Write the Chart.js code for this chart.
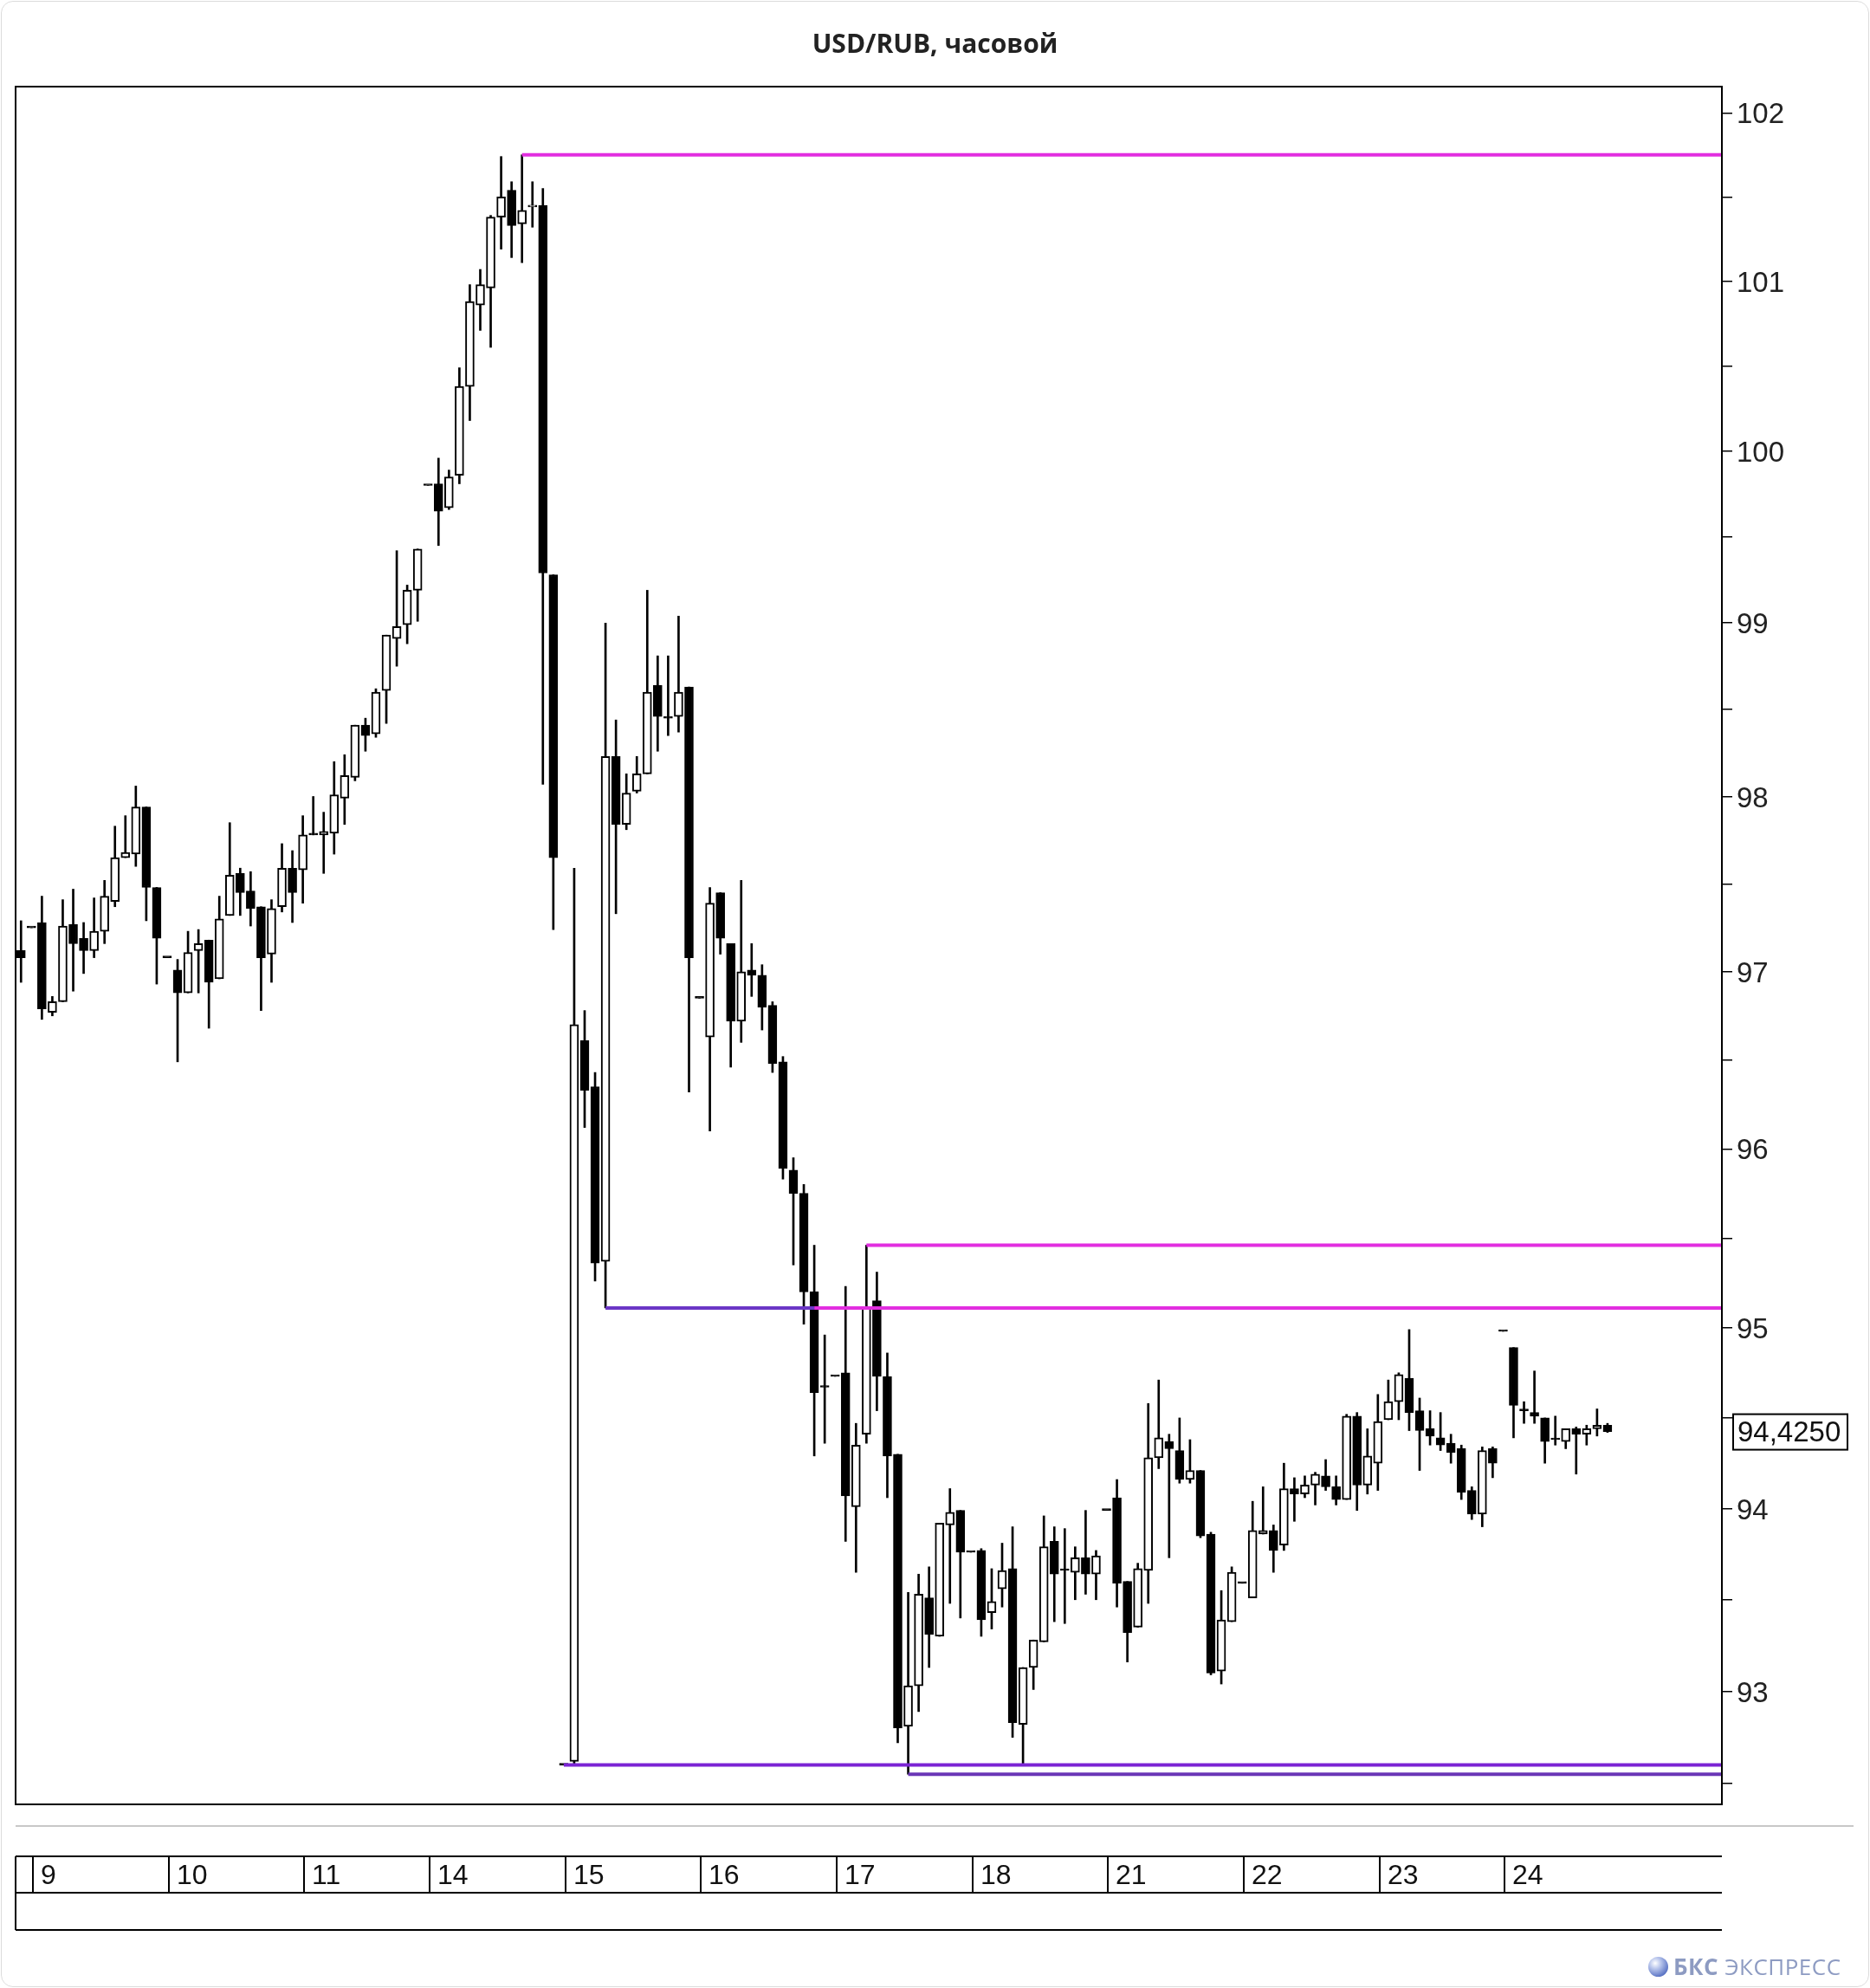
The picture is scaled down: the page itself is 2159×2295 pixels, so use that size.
<!DOCTYPE html>
<html>
<head>
<meta charset="utf-8">
<title>USD/RUB, часовой</title>
<script src="https://cdn.jsdelivr.net/npm/chart.js@4.4.0/dist/chart.umd.min.js"></script>
<style>
  html, body { margin: 0; padding: 0; background: #fff; }
  #wrap { position: relative; width: 2159px; height: 2295px; }
  #frame { position: absolute; left: 1px; top: 1px; width: 2155px; height: 2291px; border: 1px solid #dcdcdc; border-radius: 14px; pointer-events: none; }
  #logo { position: absolute; left: 1903px; top: 2254px; height: 32px; display: flex; align-items: center;
          font-family: 'Open Sans', sans-serif; font-size: 26px; color: #8d9bc2; letter-spacing: 0.5px; }
  #logo .ball { width: 23px; height: 23px; border-radius: 50%; margin-right: 6px;
                background: radial-gradient(circle at 35% 32%, #ffffff 0%, #b9c6ec 30%, #5a73c4 75%, #3c54a6 100%); }
  #logo b { font-weight: 700; margin-right: 7px; }
</style>
</head>
<body>
<div id="wrap">
  <canvas id="chart"></canvas>
  <div id="frame"></div>
  <div id="logo"><div class="ball"></div><b>БКС</b><span>ЭКСПРЕСС</span></div>
</div>
<script>
// hourly candles, 9th .. 24th (one row per day)
const opens = [
  97.12,
  97.25, 97.28, 96.77, 96.83, 97.27, 97.19, 97.12, 97.23, 97.40, 97.65, 97.67, 97.94, 97.48,
  97.08, 97.01, 96.88, 97.12, 97.18, 96.96, 97.32, 97.56, 97.46, 97.37, 97.10, 97.37, 97.59,
  97.58, 97.78, 97.78, 97.79, 97.99, 98.11, 98.41, 98.36, 98.61, 98.91, 98.99, 99.19,
  99.80, 99.81, 99.67, 99.86, 100.38, 100.86, 100.96, 101.38, 101.54, 101.34, 101.44, 101.45, 99.28,
  92.60, 92.62, 96.61, 96.35, 95.37, 98.23, 97.84, 98.03, 98.13, 98.64, 98.45, 98.46, 98.63,
  96.85, 96.63, 97.45, 97.16, 96.72, 97.01, 96.98, 96.81, 96.49, 95.88, 95.75, 95.20, 94.67,
  94.73, 94.75, 94.01, 94.41, 95.15, 94.73, 94.30, 92.81, 93.03, 93.51, 93.30, 93.91, 93.99,
  93.76, 93.77, 93.43, 93.56, 93.67, 92.82, 93.13, 93.27, 93.82, 93.66, 93.65, 93.73, 93.64,
  93.99, 94.06, 93.60, 93.35, 93.66, 94.28, 94.37, 94.32, 94.16, 94.21, 93.86, 93.11, 93.38,
  93.59, 93.51, 93.86, 93.88, 93.80, 94.11, 94.08, 94.13, 94.18, 94.12, 94.05, 94.51, 94.13,
  94.25, 94.49, 94.59, 94.72, 94.54, 94.44, 94.39, 94.36, 94.33, 94.10, 93.97, 94.33,
  94.98, 94.89, 94.54, 94.53, 94.50, 94.38, 94.37, 94.44, 94.41, 94.44, 94.46
];
const highs = [
  97.29,
  97.25, 97.43, 96.86, 97.41, 97.47, 97.28, 97.42, 97.52, 97.83, 97.89, 98.06, 97.94, 97.48,
  97.08, 97.07, 97.23, 97.24, 97.18, 97.43, 97.85, 97.59, 97.57, 97.37, 97.41, 97.73, 97.69,
  97.89, 98.00, 97.91, 98.20, 98.24, 98.41, 98.45, 98.62, 98.93, 99.42, 99.22, 99.43,
  99.80, 99.96, 99.89, 100.49, 100.98, 101.07, 101.39, 101.74, 101.59, 101.75, 101.59, 101.55, 99.28,
  92.60, 97.59, 96.78, 96.43, 99.00, 98.44, 98.13, 98.23, 99.19, 98.81, 98.81, 99.04, 98.63,
  96.85, 97.48, 97.45, 97.16, 97.52, 97.16, 97.04, 96.83, 96.52, 95.95, 95.80, 95.46, 94.96,
  94.73, 95.23, 94.47, 95.46, 95.31, 94.86, 94.30, 93.54, 93.64, 93.68, 93.92, 94.11, 93.99,
  93.76, 93.78, 93.67, 93.81, 93.90, 93.13, 93.28, 93.96, 93.90, 93.89, 93.79, 93.99, 93.77,
  93.99, 94.16, 93.60, 93.70, 94.58, 94.71, 94.41, 94.50, 94.38, 94.21, 93.87, 93.55, 93.68,
  93.59, 94.04, 94.12, 93.91, 94.25, 94.17, 94.18, 94.20, 94.27, 94.18, 94.52, 94.53, 94.44,
  94.63, 94.71, 94.75, 94.99, 94.61, 94.54, 94.53, 94.41, 94.35, 94.12, 94.34, 94.34,
  94.98, 94.89, 94.59, 94.76, 94.50, 94.51, 94.44, 94.45, 94.46, 94.55, 94.47
];
const lows = [
  96.94,
  97.25, 96.73, 96.75, 96.83, 96.89, 96.99, 97.08, 97.16, 97.37, 97.65, 97.60, 97.29, 96.93,
  97.08, 96.49, 96.88, 96.88, 96.68, 96.96, 97.32, 97.32, 97.26, 96.78, 96.94, 97.34, 97.28,
  97.39, 97.78, 97.56, 97.67, 97.84, 98.09, 98.26, 98.34, 98.42, 98.75, 98.88, 99.01,
  99.80, 99.45, 99.66, 99.81, 100.18, 100.71, 100.61, 101.19, 101.14, 101.11, 101.32, 98.07, 97.24,
  92.60, 92.60, 96.12, 95.26, 95.11, 97.33, 97.81, 98.02, 98.13, 98.26, 98.35, 98.37, 96.32,
  96.85, 96.10, 97.10, 96.46, 96.60, 96.86, 96.67, 96.43, 95.83, 95.35, 95.02, 94.29, 94.36,
  94.73, 93.82, 93.65, 94.36, 94.54, 94.06, 92.72, 92.55, 92.89, 93.13, 93.30, 93.48, 93.40,
  93.76, 93.30, 93.34, 93.46, 92.75, 92.60, 93.01, 93.27, 93.38, 93.37, 93.50, 93.53, 93.50,
  93.99, 93.46, 93.16, 93.35, 93.48, 94.22, 93.73, 94.14, 94.14, 93.84, 93.09, 93.04, 93.38,
  93.59, 93.51, 93.86, 93.65, 93.77, 93.93, 94.06, 94.02, 94.10, 94.02, 94.05, 93.99, 94.08,
  94.10, 94.49, 94.49, 94.43, 94.21, 94.35, 94.32, 94.25, 94.05, 93.94, 93.90, 94.17,
  94.98, 94.39, 94.47, 94.47, 94.25, 94.35, 94.33, 94.19, 94.35, 94.40, 94.42
];
const closes = [
  97.08,
  97.25, 96.79, 96.83, 97.26, 97.16, 97.12, 97.23, 97.43, 97.65, 97.68, 97.94, 97.48, 97.19,
  97.08, 96.88, 97.11, 97.16, 96.94, 97.30, 97.55, 97.45, 97.36, 97.08, 97.36, 97.59, 97.45,
  97.78, 97.78, 97.80, 98.01, 98.12, 98.41, 98.35, 98.60, 98.93, 98.98, 99.19, 99.43,
  99.80, 99.65, 99.85, 100.38, 100.88, 100.98, 101.38, 101.50, 101.33, 101.42, 101.45, 99.29, 97.65,
  92.60, 96.70, 96.33, 95.36, 98.23, 97.84, 98.02, 98.13, 98.60, 98.46, 98.45, 98.60, 97.08,
  96.85, 97.39, 97.19, 96.72, 97.00, 96.98, 96.80, 96.48, 95.89, 95.75, 95.20, 94.64, 94.67,
  94.73, 94.07, 94.35, 95.11, 94.73, 94.29, 92.80, 93.03, 93.53, 93.31, 93.92, 93.98, 93.76,
  93.76, 93.39, 93.49, 93.66, 92.83, 93.13, 93.28, 93.79, 93.64, 93.66, 93.73, 93.64, 93.74,
  93.99, 93.59, 93.32, 93.67, 94.28, 94.39, 94.33, 94.16, 94.21, 93.85, 93.10, 93.39, 93.65,
  93.59, 93.88, 93.88, 93.77, 94.11, 94.08, 94.13, 94.19, 94.12, 94.05, 94.51, 94.13, 94.29,
  94.48, 94.59, 94.74, 94.53, 94.43, 94.40, 94.35, 94.31, 94.09, 93.97, 94.32, 94.25,
  94.98, 94.57, 94.54, 94.51, 94.37, 94.38, 94.44, 94.41, 94.44, 94.46, 94.425
];

const dayLabels = ['9', '10', '11', '14', '15', '16', '17', '18', '21', '22', '23', '24'];
const dayStarts = [1, 14, 27, 39, 52, 65, 78, 91, 104, 117, 130, 142];

const yTicks = [92.5, 93, 93.5, 94, 94.5, 95, 95.5, 96, 96.5, 97, 97.5, 98, 98.5, 99, 99.5, 100, 100.5, 101, 101.5, 102];

// support / resistance levels: price, first candle, last candle (null = to the right edge)
const levelPrices = [101.75, 95.46, 95.11, 95.11, 92.60, 92.55];
const levelFrom   = [48, 81, 56, 76, 52, 85];
const levelTo     = [null, null, 76, null, null, null];
const levelColors = ['#e22ee0', '#e22ee0', '#6b36c6', '#e22ee0', '#7b24d4', '#6a36b6'];

const X_MIN = -0.52, X_MAX = 162.96;

const idx = closes.map((_, i) => i);

const levelSets = levelPrices.map((p, k) => ({
  type: 'line',
  order: -1,
  data: [{ x: levelFrom[k], y: p }, { x: levelTo[k] === null ? X_MAX : levelTo[k], y: p }],
  borderColor: levelColors[k],
  borderWidth: 4,
  pointRadius: 0,
  fill: false,
  tension: 0
}));

const panel = {
  id: 'panel',
  afterDraw(chart) {
    const { ctx, chartArea: a, scales: { x, y } } = chart;
    ctx.save();
    ctx.strokeStyle = '#000';
    ctx.lineWidth = 2;
    ctx.strokeRect(a.left, a.top, a.right - a.left, a.bottom - a.top);

    // thin grey divider
    ctx.strokeStyle = '#c8c8c8';
    ctx.beginPath();
    ctx.moveTo(a.left, a.bottom + 25);
    ctx.lineTo(chart.width - 19, a.bottom + 25);
    ctx.stroke();

    // date strip
    const top = a.bottom + 60, mid = a.bottom + 102, bot = a.bottom + 145;
    ctx.strokeStyle = '#000';
    ctx.beginPath();
    [top, mid, bot].forEach(yy => { ctx.moveTo(a.left, yy); ctx.lineTo(a.right, yy); });
    ctx.moveTo(a.left, top); ctx.lineTo(a.left, bot);
    ctx.stroke();

    ctx.font = "32px 'Liberation Sans', Arial, sans-serif";
    ctx.fillStyle = '#111';
    ctx.textBaseline = 'middle';
    ctx.textAlign = 'left';
    dayStarts.forEach((s, k) => {
      const px = Math.round(x.getPixelForValue(s + 0.15));
      ctx.beginPath();
      ctx.moveTo(px, top); ctx.lineTo(px, mid);
      ctx.stroke();
      ctx.fillText(dayLabels[k], px + 9, (top + mid) / 2 + 2);
    });

    // last price box
    const last = closes[closes.length - 1];
    const yv = y.getPixelForValue(last);
    const bx = a.right + 13;
    ctx.fillStyle = '#fff';
    ctx.fillRect(bx, yv - 20, 132, 41);
    ctx.strokeRect(bx, yv - 20, 132, 41);
    ctx.fillStyle = '#111';
    ctx.font = "33px 'Liberation Sans', Arial, sans-serif";
    ctx.fillText(last.toFixed(4).replace('.', ','), bx + 5, yv + 2);
    ctx.restore();
  }
};

Chart.defaults.font.family = "'Liberation Sans', Arial, sans-serif";

new Chart(document.getElementById('chart'), {
  type: 'bar',
  data: {
    datasets: [
      ...levelSets,
      {
        label: 'body',
        order: 0,
        data: idx.map(i => ({ x: i, y: [opens[i], closes[i]] })),
        backgroundColor: idx.map(i => closes[i] > opens[i] ? '#fff' : '#000'),
        borderColor: '#000',
        borderWidth: 2,
        borderSkipped: false,
        barThickness: 10,
        minBarLength: 2,
        grouped: false
      },
      {
        label: 'wick',
        order: 1,
        data: idx.map(i => ({ x: i, y: [lows[i], highs[i]] })),
        backgroundColor: '#000',
        borderWidth: 0,
        barThickness: 2,
        grouped: false
      }
    ]
  },
  options: {
    responsive: true,
    maintainAspectRatio: false,
    animation: false,
    events: [],
    layout: { padding: { left: 18, right: 18, top: 0, bottom: 212 } },
    plugins: {
      legend: { display: false },
      tooltip: { enabled: false },
      title: {
        display: true,
        text: 'USD/RUB, часовой',
        color: '#222',
        font: { family: "'Open Sans', sans-serif", size: 30, weight: 'bold' },
        padding: { top: 34, bottom: 30 }
      }
    },
    scales: {
      x: {
        type: 'linear',
        display: false,
        min: X_MIN,
        max: X_MAX,
        offset: false
      },
      y: {
        type: 'logarithmic',
        position: 'right',
        min: 92.387,
        max: 102.157,
        afterBuildTicks: s => { s.ticks = yTicks.map(v => ({ value: v })); },
        afterFit: s => { s.width = 153; },
        ticks: {
          autoSkip: false,
          padding: 5,
          labelOffset: 3,
          color: '#222',
          font: { size: 33 },
          callback: v => Number.isInteger(v) ? String(v) : ''
        },
        grid: { drawOnChartArea: false, drawTicks: true, tickLength: 12, color: '#000', lineWidth: 1.5 },
        border: { display: true, color: '#000', width: 2 }
      }
    }
  },
  plugins: [panel]
});
</script>
</body>
</html>
